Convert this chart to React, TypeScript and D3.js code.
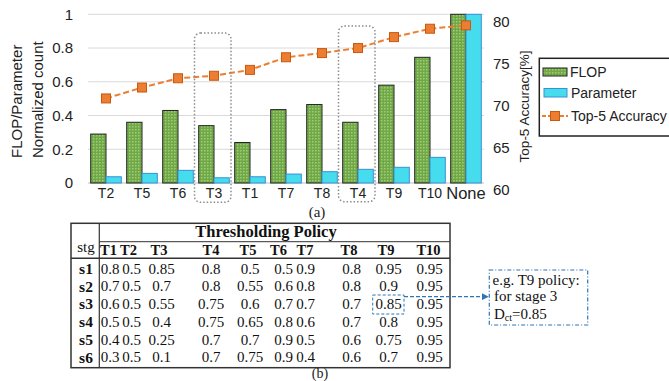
import React from 'react';
import * as d3 from 'd3';

// chart (a) data
const categories = ['T2', 'T5', 'T6', 'T3', 'T1', 'T7', 'T8', 'T4', 'T9', 'T10', 'None'];
const flop = [0.29, 0.36, 0.43, 0.34, 0.24, 0.435, 0.465, 0.36, 0.58, 0.745, 1.0];
const params = [0.037, 0.057, 0.075, 0.031, 0.037, 0.053, 0.067, 0.081, 0.093, 0.152, 1.0];
const accuracy = [70.9, 72.2, 73.3, 73.6, 74.3, 75.8, 76.3, 76.9, 78.2, 79.2, 79.6];
const leftTicks = [0, 0.2, 0.4, 0.6, 0.8, 1];
const rightTicks = [60, 65, 70, 75, 80];
const highlighted = ['T3', 'T4'];

// table (b) data
const policies = ['T1', 'T2', 'T3', 'T4', 'T5', 'T6', 'T7', 'T8', 'T9', 'T10'];
const stages = ['s1', 's2', 's3', 's4', 's5', 's6'];
const s1 = [0.8, 0.5, 0.85, 0.8, 0.5, 0.5, 0.9, 0.8, 0.95, 0.95];
const s2 = [0.7, 0.5, 0.7, 0.8, 0.55, 0.6, 0.8, 0.8, 0.9, 0.95];
const s3 = [0.6, 0.5, 0.55, 0.75, 0.6, 0.7, 0.7, 0.7, 0.85, 0.95];
const s4 = [0.5, 0.5, 0.4, 0.75, 0.65, 0.8, 0.6, 0.7, 0.8, 0.95];
const s5 = [0.4, 0.5, 0.25, 0.7, 0.7, 0.9, 0.5, 0.6, 0.75, 0.95];
const s6 = [0.3, 0.5, 0.1, 0.7, 0.75, 0.9, 0.4, 0.6, 0.7, 0.95];
const thresholds = [s1, s2, s3, s4, s5, s6];

const sans = '"Liberation Sans", Arial, sans-serif';
const serif = '"Liberation Serif", "Times New Roman", serif';

// table column centres (word table, uneven widths)
const colX = [110, 131.5, 161.5, 211, 250, 283.5, 305.5, 351.5, 388.5, 429.5];
const hdrX = [108.5, 128.5, 159, 211, 248, 278.5, 305, 349, 386, 428.5];

export default function App() {
  const x = d3.scaleBand<string>().domain(categories).range([88, 484]).paddingInner(0.15).paddingOuter(0.075);
  const sub = d3.scaleBand<string>().domain(['flop', 'param']).range([0, x.bandwidth()]);
  const yL = d3.scaleLinear().domain([0, 1]).range([183, 14.3]);
  const yR = d3.scaleLinear().domain([60, 80]).range([190, 22]);
  const step = x.step();
  const cx = (c: string) => (x(c) as number) + x.bandwidth() / 2;

  const accLine = d3
    .line<number>()
    .x((_, i) => cx(categories[i]))
    .y((d) => yR(d));

  const rowY = d3.scaleBand<string>().domain(stages).range([259.5, 366]);
  const ry = (s: string) => (rowY(s) as number) + rowY.bandwidth() / 2;

  return (
    <svg width={669} height={381} style={{ position: 'absolute', left: 0, top: 0, background: '#fff' }}>
      <defs>
        <pattern id="flopPat" width={3} height={3} patternUnits="userSpaceOnUse">
          <rect width={3} height={3} fill="#6fa845" />
          <rect width={1.5} height={1.5} fill="#9fcd7d" />
        </pattern>
        <marker id="arr" viewBox="0 0 10 10" refX={9} refY={5} markerWidth={6} markerHeight={6} orient="auto">
          <path d="M0,0L10,5L0,10z" fill="#2e75b6" />
        </marker>
      </defs>

      {/* gridlines */}
      {leftTicks.map((t) => (
        <line key={t} x1={88} x2={484} y1={yL(t)} y2={yL(t)} stroke={t === 0 ? '#bfbfbf' : '#d9d9d9'} strokeWidth={1} />
      ))}

      {/* bars */}
      {categories.map((c, i) => (
        <g key={c}>
          <rect
            x={(x(c) as number) + (sub('flop') as number)}
            y={yL(flop[i])}
            width={sub.bandwidth()}
            height={yL(0) - yL(flop[i])}
            fill="url(#flopPat)"
            stroke="#222"
            strokeWidth={1}
          />
          <rect
            x={(x(c) as number) + (sub('param') as number)}
            y={yL(params[i])}
            width={sub.bandwidth()}
            height={yL(0) - yL(params[i])}
            fill="#45dcee"
            stroke="#3b8fd4"
            strokeWidth={1}
          />
        </g>
      ))}

      {/* accuracy line */}
      <path d={accLine(accuracy) || ''} fill="none" stroke="#ed7d31" strokeWidth={2} strokeDasharray="6,3" />
      {accuracy.map((a, i) => (
        <rect key={i} x={cx(categories[i]) - 4.5} y={yR(a) - 4.5} width={9} height={9} fill="#ed7d31" stroke="#c55a11" strokeWidth={1} />
      ))}

      {/* highlight boxes around the T3 / T4 columns */}
      {highlighted.map((h, k) => {
        const top = k === 0 ? 33 : 26;
        const bottom = k === 0 ? 202.3 : 201.7;
        const left = 88 + categories.indexOf(h) * step - 1.5;
        return (
          <rect
            key={h}
            x={left}
            y={top}
            width={step + 0.5}
            height={bottom - top}
            rx={6}
            fill="none"
            stroke="#8c8c8c"
            strokeWidth={1.5}
            strokeDasharray="1.5,2"
          />
        );
      })}

      {/* left axis labels */}
      {leftTicks.map((t) => (
        <text key={t} x={73} y={yL(t)} dy="0.35em" textAnchor="end" fontFamily={sans} fontSize={15} fill="#222">
          {t}
        </text>
      ))}
      {/* right axis labels */}
      {rightTicks.map((t) => (
        <text key={t} x={493} y={yR(t)} dy="0.35em" textAnchor="start" fontFamily={sans} fontSize={15} fill="#222">
          {t}
        </text>
      ))}
      {/* x labels */}
      {categories.map((c) => (
        <text
          key={c}
          x={cx(c)}
          y={c === 'None' ? 199 : 198}
          textAnchor="middle"
          fontFamily={sans}
          fontSize={c === 'None' ? 16.5 : 14}
          fill="#222"
        >
          {c}
        </text>
      ))}

      {/* axis titles */}
      <text transform="translate(21.5,158) rotate(-90)" fontFamily={sans} fontSize={15} fill="#222">
        FLOP/Parameter
      </text>
      <text transform="translate(43,158) rotate(-90)" fontFamily={sans} fontSize={15} fill="#222">
        Normalized count
      </text>
      <text transform="translate(529,106.5) rotate(-90)" textAnchor="middle" fontFamily={sans} fontSize={13.5} fill="#222">
        Top-5 Accuracy[%]
      </text>

      {/* legend */}
      <rect x={539.3} y={58.3} width={140} height={77.7} fill="#fff" stroke="#222" strokeWidth={1.5} />
      <rect x={543} y={68} width={24} height={8} fill="url(#flopPat)" stroke="#222" strokeWidth={1} />
      <text x={570} y={72} dy="0.35em" fontFamily={sans} fontSize={14} fill="#222">FLOP</text>
      <rect x={544} y={88.5} width={23} height={8.5} fill="#45dcee" stroke="#3b8fd4" strokeWidth={1} />
      <text x={571} y={93} dy="0.35em" fontFamily={sans} fontSize={14} fill="#222">Parameter</text>
      <line x1={542} x2={568} y1={116} y2={116} stroke="#ed7d31" strokeWidth={2} strokeDasharray="4,2" />
      <rect x={550.5} y={111.5} width={9} height={9} fill="#ed7d31" stroke="#c55a11" strokeWidth={1} />
      <text x={571} y={116} dy="0.35em" fontFamily={sans} fontSize={14} fill="#222">Top-5 Accuracy</text>

      <text x={317} y={212} dy="0.35em" textAnchor="middle" fontFamily={serif} fontSize={15} fill="#222">(a)</text>

      {/* table */}
      <rect x={71} y={223.3} width={379} height={144.4} fill="none" stroke="#333" strokeWidth={1.5} />
      <line x1={99.3} x2={99.3} y1={223.3} y2={367.7} stroke="#333" strokeWidth={1.2} />
      <line x1={99.3} x2={450} y1={241.7} y2={241.7} stroke="#333" strokeWidth={1} />
      <line x1={71} x2={450} y1={258.3} y2={258.3} stroke="#333" strokeWidth={1.5} />
      <text x={266} y={231.7} dy="0.35em" textAnchor="middle" fontFamily={serif} fontWeight="bold" fontSize={16.5} fill="#111">
        Thresholding Policy
      </text>
      <text x={86} y={246.5} dy="0.35em" textAnchor="middle" fontFamily={serif} fontSize={15} fill="#111">stg</text>
      {policies.map((p, j) => (
        <text key={p} x={hdrX[j]} y={250} dy="0.35em" textAnchor="middle" fontFamily={serif} fontWeight="bold" fontSize={14.5} fill="#111">
          {p}
        </text>
      ))}
      {stages.map((s, i) => (
        <g key={s}>
          <text x={86} y={ry(s)} dy="0.35em" textAnchor="middle" fontFamily={serif} fontWeight="bold" fontSize={15.5} fill="#111">
            {s}
          </text>
          {thresholds[i].map((v, j) => (
            <text key={j} x={colX[j]} y={ry(s)} dy="0.35em" textAnchor="middle" fontFamily={serif} fontSize={15} fill="#111">
              {String(v)}
            </text>
          ))}
        </g>
      ))}
      <text x={320} y={373} dy="0.35em" textAnchor="middle" fontFamily={serif} fontSize={14} fill="#222">(b)</text>

      {/* annotation */}
      <rect x={372.7} y={295} width={31.3} height={19} fill="none" stroke="#2e75b6" strokeWidth={1} strokeDasharray="3,2" />
      <line x1={404} x2={488} y1={296.7} y2={296.7} stroke="#2e75b6" strokeWidth={1.2} strokeDasharray="4,2" markerEnd="url(#arr)" />
      <rect x={489.3} y={270} width={98.4} height={55} fill="#fff" stroke="#2e75b6" strokeWidth={1.2} strokeDasharray="4,2,1,2" />
      <text fontFamily={serif} fontSize={15} fill="#111">
        <tspan x={492.5} y={280} dy="0.35em">e.g. T9 policy:</tspan>
        <tspan x={494} y={296} dy="0.35em">for stage 3</tspan>
      </text>
      <text x={494} y={313.3} dy="0.35em" fontFamily={serif} fontSize={15} fill="#111">
        D<tspan fontSize={10} dy="2">ct</tspan>
        <tspan dy="-2">=0.85</tspan>
      </text>
    </svg>
  );
}
